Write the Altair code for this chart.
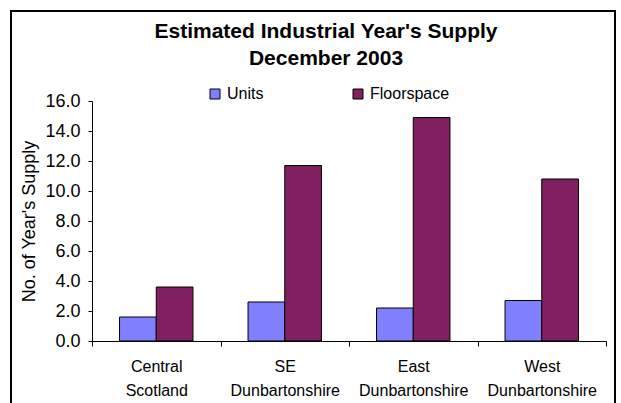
import altair as alt
import pandas as pd

regions = ["Central Scotland", "SE Dunbartonshire", "East Dunbartonshire", "West Dunbartonshire"]
series_names = ["Units", "Floorspace"]
units = [1.6, 2.6, 2.2, 2.7]
floorspace = [3.6, 11.7, 14.9, 10.8]
y_ticks = [0, 2, 4, 6, 8, 10, 12, 14, 16]
colors = ["#8080FF", "#802060"]
title_lines = ["Estimated Industrial Year's Supply", "December 2003"]
y_title = "No. of Year's Supply"

rows = []
for r, u, f in zip(regions, units, floorspace):
    rows.append({"region": r, "series": "Units", "value": u})
    rows.append({"region": r, "series": "Floorspace", "value": f})
df = pd.DataFrame(rows)

FONT = "Liberation Sans"

bars = alt.Chart(df).mark_bar(stroke="black", strokeWidth=1).encode(
    x=alt.X(
        "region:N",
        sort=regions,
        scale=alt.Scale(paddingInner=0, paddingOuter=0),
        axis=alt.Axis(
            title=None,
            labelAngle=0,
            labelExpr="split(datum.label, ' ')",
            labelFont=FONT,
            labelFontSize=16,
            labelColor="black",
            labelLineHeight=24,
            labelPadding=12,
            labelLimit=0,
            tickBand="extent",
            tickSize=5,
            tickColor="black",
            domainColor="black",
            grid=False,
        ),
    ),
    xOffset=alt.XOffset(
        "series:N",
        sort=series_names,
        scale=alt.Scale(domain=series_names, paddingOuter=0.75, paddingInner=0),
    ),
    y=alt.Y(
        "value:Q",
        scale=alt.Scale(domain=[0, 16], nice=False),
        axis=alt.Axis(
            values=y_ticks,
            format=".1f",
            title=y_title,
            titleFont=FONT,
            titleFontSize=18,
            titleFontWeight="normal",
            titleColor="black",
            titleX=-63,
            titleY=120,
            titleAngle=-90,
            titleAlign="center",
            titleBaseline="middle",
            labelFont=FONT,
            labelFontSize=18,
            labelColor="black",
            labelPadding=8,
            grid=False,
            tickSize=4,
            tickColor="black",
            domainColor="black",
        ),
    ),
    color=alt.Color(
        "series:N",
        sort=series_names,
        scale=alt.Scale(domain=series_names, range=colors),
        legend=alt.Legend(
            orient="none",
            legendX=115,
            legendY=-15,
            direction="horizontal",
            title=None,
            symbolType="square",
            symbolSize=100,
            symbolStrokeColor="black",
            symbolStrokeWidth=1,
            symbolOpacity=1,
            labelFont=FONT,
            labelFontSize=16,
            labelColor="black",
            labelOffset=4,
            columnPadding=86,
        ),
    ),
)

frame = alt.Chart(pd.DataFrame({"a": [0]})).mark_rect(
    filled=False, stroke="black", strokeWidth=2
).encode(
    x=alt.value(-81), x2=alt.value(523), y=alt.value(-90), y2=alt.value(330)
)

chart = alt.layer(frame, bars).properties(
    width=514,
    height=240,
    autosize=alt.AutoSizeParams(type="none"),
    padding={"left": 92, "top": 101, "right": 15, "bottom": 62},
    background="white",
    title=alt.TitleParams(
        text=title_lines,
        font=FONT,
        fontSize=21,
        fontWeight="bold",
        color="black",
        anchor="middle",
        frame="group",
        dx=-23,
        dy=59,
        lineHeight=26.6,
        offset=0,
    ),
).configure_view(strokeWidth=0)

chart.save("out.html", embed_options={"renderer": "svg", "actions": False})
